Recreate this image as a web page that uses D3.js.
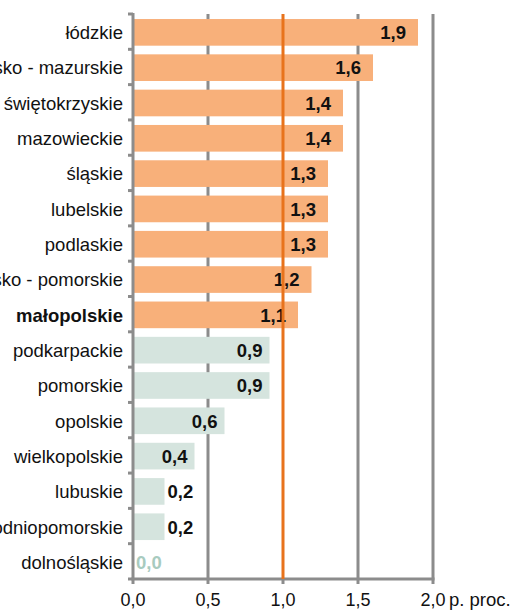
<!DOCTYPE html>
<html><head><meta charset="utf-8">
<script src="https://cdn.jsdelivr.net/npm/d3@7"></script>
<style>body{margin:0;background:#fff;} svg{display:block;} text{font-family:"Liberation Sans",Arial,sans-serif;}</style>
</head><body>
<svg id="c" width="514" height="610"></svg>
<script>
const categories = ["łódzkie","warmińsko - mazurskie","świętokrzyskie","mazowieckie","śląskie","lubelskie","podlaskie","kujawsko - pomorskie","małopolskie","podkarpackie","pomorskie","opolskie","wielkopolskie","lubuskie","zachodniopomorskie","dolnośląskie"];
const values = [1.90,1.60,1.40,1.40,1.30,1.30,1.30,1.19,1.10,0.91,0.91,0.61,0.41,0.21,0.21,0.0];
const xTicks = [0,0.5,1.0,1.5,2.0];
const unitLabel = "p. proc.";
const boldCategory = "małopolskie";
const referenceValue = 1.0;

const svg = d3.select("#c");
const x = d3.scaleLinear().domain([0,2]).range([133,433]);
const y = d3.scaleBand().domain(categories).range([14,579]).padding(0);
const barH = y.bandwidth()*0.755;
const grey = "#8c8c8c", orange = "#f8b07a", green = "#d5e4de", refCol = "#e8731c";
const fmt = v => d3.format(".1f")(v).replace(".", ",");

// gridlines (behind bars)
svg.append("g").selectAll("line").data(xTicks.filter(t => t !== 0 && t !== referenceValue)).join("line")
  .attr("x1", d => x(d)).attr("x2", d => x(d)).attr("y1", 14).attr("y2", 579)
  .attr("stroke", grey).attr("stroke-width", 3);

// bars
svg.append("g").selectAll("rect").data(categories).join("rect")
  .attr("x", x(0)).attr("y", (d) => y(d) + (y.bandwidth()-barH)/2 + 0.7)
  .attr("width", (d,i) => x(values[i]) - x(0)).attr("height", barH)
  .attr("fill", (d,i) => values[i] > 1 ? orange : green);

// category labels
svg.append("g").selectAll("text").data(categories).join("text")
  .attr("x", 123).attr("y", d => y(d) + y.bandwidth()/2 + 1)
  .attr("dy", "0.35em").attr("text-anchor", "end")
  .attr("font-size", 18.5).attr("fill", "#111")
  .attr("font-weight", d => d === boldCategory ? "bold" : "normal")
  .text(d => d);

// value labels
svg.append("g").selectAll("text").data(categories).join("text")
  .attr("x", (d,i) => {
    const v = values[i];
    if (v === 0) return x(0) + 3;
    if (v < 0.3) return x(v) + 3;
    return x(v) - (v > 1 ? 12 : 7);
  })
  .attr("y", d => y(d) + y.bandwidth()/2 + 1)
  .attr("dy", "0.35em")
  .attr("text-anchor", (d,i) => values[i] < 0.3 ? "start" : "end")
  .attr("font-size", 18.5).attr("font-weight", "bold")
  .attr("fill", (d,i) => values[i] === 0 ? "#a8cbbf" : "#111")
  .text((d,i) => fmt(values[i]));

// left axis with ticks
const bounds = categories.map(d => y(d)).concat([579]);
svg.append("g").selectAll("line").data(bounds).join("line")
  .attr("x1", 128).attr("x2", x(0)).attr("y1", d => d).attr("y2", d => d)
  .attr("stroke", grey).attr("stroke-width", 3);
svg.append("line").attr("x1", x(0)).attr("x2", x(0)).attr("y1", 13).attr("y2", 580)
  .attr("stroke", grey).attr("stroke-width", 3);

// bottom axis
svg.append("line").attr("x1", x(0)-1.5).attr("x2", x(2)+1.5).attr("y1", 579).attr("y2", 579)
  .attr("stroke", grey).attr("stroke-width", 3);
svg.append("g").selectAll("line").data(xTicks).join("line")
  .attr("x1", d => x(d)).attr("x2", d => x(d)).attr("y1", 579).attr("y2", 584)
  .attr("stroke", grey).attr("stroke-width", 3);
svg.append("g").selectAll("text").data(xTicks).join("text")
  .attr("x", d => x(d)).attr("y", 606).attr("text-anchor", "middle")
  .attr("font-size", 18).attr("fill", "#111").text(d => fmt(d));
svg.append("text").attr("x", 449).attr("y", 606).attr("font-size", 18.5).attr("fill", "#111").text(unitLabel);

// reference line
svg.append("line").attr("x1", x(referenceValue)).attr("x2", x(referenceValue)).attr("y1", 14).attr("y2", 579)
  .attr("stroke", refCol).attr("stroke-width", 3);
</script>
</body></html>
